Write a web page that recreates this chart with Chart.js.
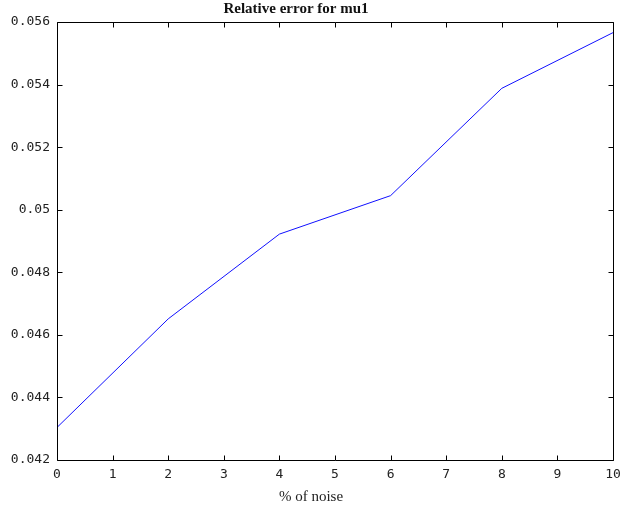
<!DOCTYPE html>
<html>
<head>
<meta charset="utf-8">
<script src="https://cdn.jsdelivr.net/npm/chart.js@4.4.1/dist/chart.umd.min.js"></script>
<style>
html,body{margin:0;padding:0;background:#fff;}
#wrap{width:620px;height:508px;}
</style>
</head>
<body>
<div id="wrap"><canvas id="c" width="620" height="508"></canvas></div>
<script>
const titleText = "Relative error for mu1";
const xAxisLabel = "% of noise";
const noiseLevels = [0, 2, 4, 6, 8, 10];
const relError = [0.04304, 0.04651, 0.04922, 0.05045, 0.05388, 0.05566];
const xTicks = [0,1,2,3,4,5,6,7,8,9,10];
const yTickLabels = ["0.042","0.044","0.046","0.048","0.05","0.052","0.054","0.056"];

const frameAndText = {
  id: 'frameAndText',
  afterDraw(chart) {
    const ctx = chart.ctx;
    const a = chart.chartArea;
    const xs = chart.scales.x, ys = chart.scales.y;
    const L = Math.round(a.left) + 0.5, R = Math.round(a.right) + 0.5;
    const T = Math.round(a.top) + 0.5, B = Math.round(a.bottom) + 0.5;
    ctx.save();
    ctx.strokeStyle = '#000';
    ctx.lineWidth = 1;
    ctx.beginPath();
    ctx.rect(L, T, R - L, B - T);
    const tl = 5;
    xs.ticks.forEach(t => {
      const px = Math.round(xs.getPixelForValue(t.value)) + 0.5;
      ctx.moveTo(px, B); ctx.lineTo(px, B - tl);
      ctx.moveTo(px, T); ctx.lineTo(px, T + tl);
    });
    ys.ticks.forEach(t => {
      const py = Math.round(ys.getPixelForValue(t.value)) + 0.5;
      ctx.moveTo(L, py); ctx.lineTo(L + tl, py);
      ctx.moveTo(R, py); ctx.lineTo(R - tl, py);
    });
    ctx.stroke();
    ctx.fillStyle = '#111';
    ctx.textAlign = 'center';
    ctx.textBaseline = 'alphabetic';
    ctx.font = 'bold 15px "Liberation Serif"';
    ctx.fillText(titleText, 296, 13);
    ctx.fillStyle = '#222';
    ctx.font = '15px "Liberation Serif"';
    ctx.fillText(xAxisLabel, 311, 501);
    ctx.restore();
  }
};

new Chart(document.getElementById('c'), {
  type: 'line',
  data: {
    datasets: [{
      data: noiseLevels.map((x, i) => ({x: x, y: relError[i]})),
      borderColor: '#1010ff',
      borderWidth: 1,
      pointRadius: 0,
      tension: 0,
      fill: false
    }]
  },
  options: {
    responsive: false,
    animation: false,
    events: [],
    layout: { padding: { top: 22, right: 7, left: 0, bottom: 0 } },
    plugins: { legend: { display: false }, title: { display: false }, tooltip: { enabled: false } },
    scales: {
      x: {
        type: 'linear', min: 0, max: 10,
        afterBuildTicks(s) { s.ticks = xTicks.map(v => ({value: v})); },
        grid: { display: false, drawTicks: false },
        border: { display: false },
        ticks: {
          padding: 7, maxRotation: 0, autoSkip: false,
          color: '#222',
          font: { family: '"DejaVu Sans Mono"', size: 13 },
          callback: v => String(v)
        },
        afterFit(s) { s.height = 48; s.paddingLeft = 0; s.paddingRight = 0; }
      },
      y: {
        type: 'linear', min: 0.042, max: 0.056,
        afterBuildTicks(s) { s.ticks = yTickLabels.map(l => ({value: parseFloat(l)})); },
        grid: { display: false, drawTicks: false },
        border: { display: false },
        ticks: {
          padding: 7, autoSkip: false,
          color: '#222',
          font: { family: '"DejaVu Sans Mono"', size: 13 },
          callback: (v, i) => yTickLabels[i]
        },
        afterFit(s) { s.width = 57; s.paddingTop = 0; s.paddingBottom = 0; }
      }
    }
  },
  plugins: [frameAndText]
});
</script>
</body>
</html>
